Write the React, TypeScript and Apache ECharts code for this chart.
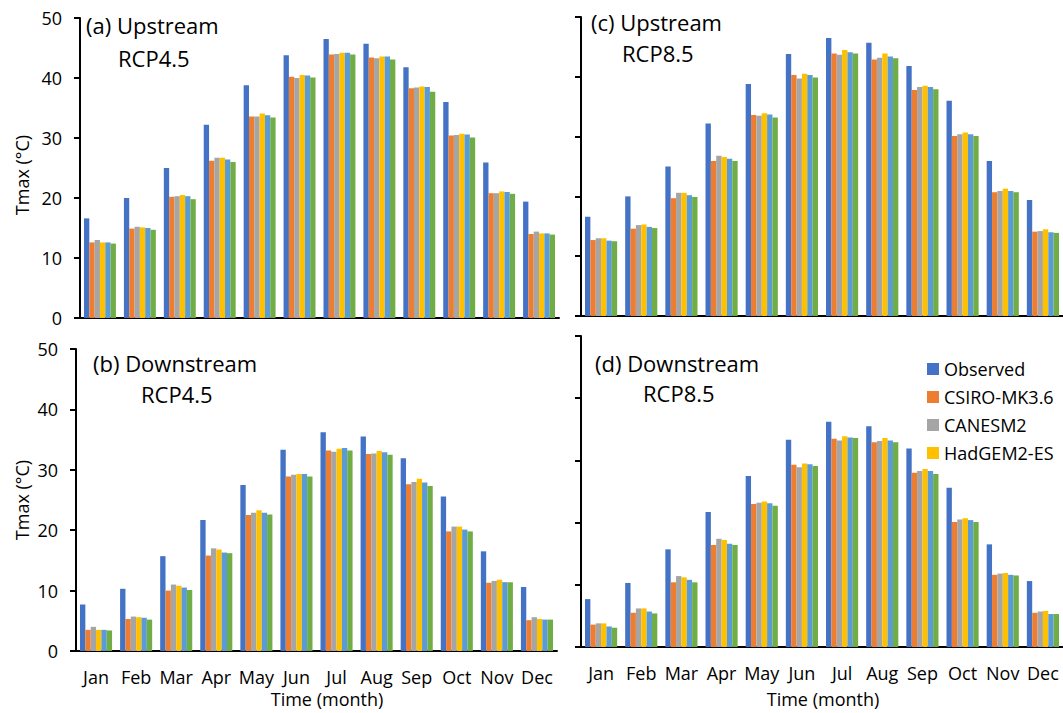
import React, { useEffect, useRef } from "react";
import * as echarts from "echarts";

const months = ["Jan", "Feb", "Mar", "Apr", "May", "Jun", "Jul", "Aug", "Sep", "Oct", "Nov", "Dec"];
const seriesNames = ["Observed", "CSIRO-MK3.6", "CANESM2", "HadGEM2-ES", "GCM 5", "GCM 6"];
const legendNames = ["Observed", "CSIRO-MK3.6", "CANESM2", "HadGEM2-ES"];
const colors = ["#4472C4", "#ED7D31", "#A5A5A5", "#FFC000", "#5B9BD5", "#70AD47"];
const yTicks = [0, 10, 20, 30, 40, 50];

// Observed (same for both scenarios)
const upObserved = [16.6, 20.0, 25.0, 32.2, 38.8, 43.8, 46.5, 45.7, 41.8, 36.0, 25.9, 19.4];
const downObserved = [7.7, 10.3, 15.7, 21.7, 27.5, 33.3, 36.2, 35.5, 31.9, 25.6, 16.5, 10.6];

// (a) Upstream RCP4.5
const aCsiro = [12.6, 14.9, 20.2, 26.2, 33.6, 40.2, 43.9, 43.4, 38.3, 30.4, 20.8, 14.0];
const aCanesm = [13.0, 15.2, 20.3, 26.7, 33.6, 40.0, 44.0, 43.3, 38.4, 30.5, 20.8, 14.4];
const aHadgem = [12.6, 15.1, 20.5, 26.7, 34.1, 40.5, 44.2, 43.6, 38.6, 30.7, 21.1, 14.1];
const aGcm5 = [12.6, 15.0, 20.3, 26.4, 33.8, 40.4, 44.2, 43.6, 38.5, 30.6, 21.0, 14.1];
const aGcm6 = [12.4, 14.7, 19.8, 26.0, 33.4, 40.1, 43.9, 43.1, 37.7, 30.1, 20.7, 13.9];

// (b) Downstream RCP4.5
const bCsiro = [3.5, 5.3, 10.0, 15.8, 22.5, 28.9, 33.2, 32.6, 27.6, 19.8, 11.3, 5.1];
const bCanesm = [4.0, 5.7, 11.0, 17.0, 22.9, 29.2, 33.0, 32.7, 28.0, 20.6, 11.6, 5.6];
const bHadgem = [3.5, 5.6, 10.8, 16.8, 23.3, 29.3, 33.5, 33.1, 28.5, 20.6, 11.8, 5.3];
const bGcm5 = [3.5, 5.5, 10.5, 16.3, 22.9, 29.3, 33.6, 32.9, 27.9, 20.1, 11.4, 5.2];
const bGcm6 = [3.4, 5.2, 10.1, 16.2, 22.6, 28.9, 33.2, 32.5, 27.3, 19.8, 11.4, 5.2];

// (c) Upstream RCP8.5
const cCsiro = [12.7, 14.6, 19.7, 25.9, 33.6, 40.3, 43.9, 42.9, 37.8, 30.1, 20.7, 14.1];
const cCanesm = [13.0, 15.2, 20.6, 26.8, 33.5, 39.7, 43.7, 43.2, 38.3, 30.4, 20.9, 14.2];
const cHadgem = [13.0, 15.3, 20.6, 26.6, 33.9, 40.5, 44.5, 43.9, 38.5, 30.7, 21.3, 14.5];
const cGcm5 = [12.6, 14.9, 20.2, 26.3, 33.7, 40.3, 44.1, 43.4, 38.3, 30.4, 20.9, 14.0];
const cGcm6 = [12.5, 14.7, 19.9, 25.9, 33.2, 39.9, 43.9, 43.1, 37.9, 30.1, 20.7, 13.9];

// (d) Downstream RCP8.5
const dCsiro = [3.6, 5.5, 10.4, 16.4, 23.0, 29.3, 33.5, 32.9, 28.0, 20.1, 11.6, 5.5];
const dCanesm = [3.8, 6.2, 11.4, 17.4, 23.2, 28.9, 33.2, 33.1, 28.3, 20.5, 11.8, 5.7];
const dHadgem = [3.8, 6.2, 11.2, 17.2, 23.4, 29.5, 33.9, 33.6, 28.6, 20.7, 11.9, 5.8];
const dGcm5 = [3.3, 5.7, 10.8, 16.6, 23.1, 29.4, 33.7, 33.2, 28.3, 20.4, 11.6, 5.3];
const dGcm6 = [3.1, 5.4, 10.4, 16.4, 22.7, 29.1, 33.6, 32.9, 27.8, 20.1, 11.5, 5.3];

const panelData = [
  [upObserved, aCsiro, aCanesm, aHadgem, aGcm5, aGcm6],
  [downObserved, bCsiro, bCanesm, bHadgem, bGcm5, bGcm6],
  [upObserved, cCsiro, cCanesm, cHadgem, cGcm5, cGcm6],
  [downObserved, dCsiro, dCanesm, dHadgem, dGcm5, dGcm6],
];

const FONT = "'Open Sans', 'Noto Sans', sans-serif";

export default function App() {
  const ref = useRef<HTMLDivElement>(null);
  useEffect(() => {
    document.body.style.margin = "0";
    const chart = echarts.init(ref.current!, null, { renderer: "svg" });
    const grids = [
      { left: 80, top: 18, width: 479, height: 300 },
      { left: 76, top: 349, width: 481, height: 302 },
      { left: 581, top: 17, width: 485, height: 299 },
      { left: 581, top: 336, width: 485, height: 311 },
    ];
    const isBottom = [false, true, false, true];
    const isLeft = [true, true, false, false];
    const series: any[] = [];
    panelData.forEach((arrs, p) => {
      arrs.forEach((vals, s) => {
        series.push({
          type: "bar",
          name: seriesNames[s],
          xAxisIndex: p,
          yAxisIndex: p,
          data: vals,
          barGap: "0%",
          barCategoryGap: "20%",
          itemStyle: { color: colors[s] },
          emphasis: { disabled: true },
        });
      });
    });
    const titleText = (text: string, x: number, y: number, size = 22) => ({
      type: "text",
      x,
      y,
      style: { text, fontSize: size, fontFamily: FONT, fill: "#000", verticalAlign: "middle", align: "left" },
    });
    const option: any = {
      animation: false,
      textStyle: { fontFamily: FONT },
      color: colors,
      legend: {
        data: legendNames,
        orient: "vertical",
        left: 922,
        top: 355,
        itemWidth: 12,
        itemHeight: 12,
        itemGap: 10,
        icon: "rect",
        selectedMode: false,
        textStyle: { fontSize: 18, color: "#000", lineHeight: 18, fontFamily: FONT },
      },
      grid: grids.map((g) => ({ ...g, containLabel: false })),
      xAxis: grids.map((_, i) => ({
        type: "category",
        gridIndex: i,
        data: months,
        axisLine: { lineStyle: { color: "#000", width: 2 } },
        axisTick: { alignWithLabel: true, length: 6, lineStyle: { color: "#000", width: 2 } },
        axisLabel: { show: isBottom[i], fontSize: 18, color: "#000", margin: 17, interval: 0, fontFamily: FONT },
        splitLine: { show: false },
      })),
      yAxis: grids.map((_, i) => ({
        type: "value",
        gridIndex: i,
        min: yTicks[0],
        max: yTicks[yTicks.length - 1],
        interval: 10,
        axisLine: { show: true, lineStyle: { color: "#000", width: 2 } },
        axisTick: { show: true, length: 6, lineStyle: { color: "#000", width: 2 } },
        axisLabel: { show: isLeft[i], fontSize: 18, color: "#000", margin: 18, fontFamily: FONT },
        splitLine: { show: false },
      })),
      series,
      graphic: [
        titleText("(a) Upstream", 86, 25),
        titleText("RCP4.5", 118, 58),
        titleText("(c) Upstream", 591, 22),
        titleText("RCP8.5", 622, 53),
        titleText("(b) Downstream", 93, 363),
        titleText("RCP4.5", 141, 394),
        titleText("(d) Downstream", 595, 363),
        titleText("RCP8.5", 643, 393),
        {
          type: "text",
          x: 22,
          y: 175,
          rotation: Math.PI / 2,
          style: { text: "Tmax (°C)", fontSize: 18, fontFamily: FONT, fill: "#000", align: "center", verticalAlign: "middle" },
        },
        {
          type: "text",
          x: 22,
          y: 500,
          rotation: Math.PI / 2,
          style: { text: "Tmax (°C)", fontSize: 18, fontFamily: FONT, fill: "#000", align: "center", verticalAlign: "middle" },
        },
        {
          type: "text",
          x: 327,
          y: 699,
          style: { text: "Time (month)", fontSize: 18, fontFamily: FONT, fill: "#000", align: "center", verticalAlign: "middle" },
        },
        {
          type: "text",
          x: 823,
          y: 699,
          style: { text: "Time (month)", fontSize: 18, fontFamily: FONT, fill: "#000", align: "center", verticalAlign: "middle" },
        },
      ],
    };
    chart.setOption(option);
    return () => chart.dispose();
  }, []);
  return <div ref={ref} style={{ position: "absolute", left: 0, top: 0, width: 1063, height: 713 }} />;
}
